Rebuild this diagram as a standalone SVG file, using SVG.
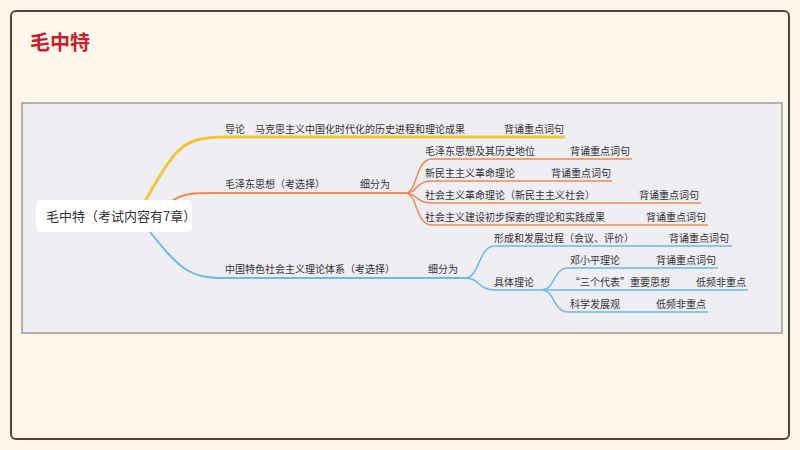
<svg xmlns="http://www.w3.org/2000/svg" width="800" height="450" viewBox="0 0 800 450">
<style>
text{font-family:"Noto Sans CJK SC","Noto Sans",sans-serif;fill:#333;font-size:10px}
.y{stroke:#f5c43a;fill:none;stroke-width:3}
.o{stroke:#f08a50;fill:none;stroke-width:2}
.b{stroke:#6ab8ef;fill:none;stroke-width:2}
.t{stroke-width:1.5}
</style>
<rect x="0" y="0" width="800" height="450" fill="#fdf5ea"/>
<rect x="11" y="11" width="778" height="428" rx="5" fill="#fff7ec" stroke="#5a4235" stroke-width="2"/>
<text x="30" y="50" style="font-size:20px;fill:#c8202a;font-weight:bold">毛中特</text>
<rect x="22" y="103" width="760" height="230" fill="#eeeef3" stroke="#a09a94" stroke-width="1.5"/>
<g id="connectors">
<path class="y" d="M145,201 C175,150 180,137 225,137 L565,137"/>
<path class="o" d="M172,201 C185,192 195,193 225,193 L405,193"/>
<path class="o t" d="M405,193 C418,193 415,159 432,159 L632,159"/>
<path class="o t" d="M405,193 C418,193 415,181 432,181 L612,181"/>
<path class="o t" d="M405,193 C418,193 415,203 432,203 L701,203"/>
<path class="o t" d="M405,193 C418,193 415,225 432,225 L708,225"/>
<path class="b" d="M150,232 C180,270 190,278 225,278 L465,278"/>
<path class="b t" d="M465,278 C480,278 478,246 495,246 L732,246"/>
<path class="b t" d="M465,278 C480,278 478,290 495,290 L542,290"/>
<path class="b t" d="M542,290 C555,290 553,268 568,268 L718,268"/>
<path class="b t" d="M542,290 L748,290"/>
<path class="b t" d="M542,290 C555,290 553,312 568,312 L708,312"/>
</g>
<g id="root"><rect x="36" y="200" width="156" height="32" rx="5" fill="#fff"/><text x="46" y="221" style="font-size:13px">毛中特（考试内容有7章）</text></g>
<g id="n1"><text x="225" y="133">导论　马克思主义中国化时代化的历史进程和理论成果</text><text x="504" y="133">背诵重点词句</text></g>
<g id="n2"><text x="225" y="188">毛泽东思想（考选择）</text><text x="360" y="188">细分为</text></g>
<g id="n21"><text x="425" y="155">毛泽东思想及其历史地位</text><text x="570" y="155">背诵重点词句</text></g>
<g id="n22"><text x="425" y="177">新民主主义革命理论</text><text x="551" y="177">背诵重点词句</text></g>
<g id="n23"><text x="425" y="199">社会主义革命理论（新民主主义社会）</text><text x="639" y="199">背诵重点词句</text></g>
<g id="n24"><text x="425" y="221">社会主义建设初步探索的理论和实践成果</text><text x="646" y="221">背诵重点词句</text></g>
<g id="n3"><text x="225" y="273">中国特色社会主义理论体系（考选择）</text><text x="428" y="273">细分为</text></g>
<g id="n31"><text x="494" y="242">形成和发展过程（会议、评价）</text><text x="669" y="242">背诵重点词句</text></g>
<g id="n32"><text x="494" y="286">具体理论</text></g>
<g id="n321"><text x="570" y="264">邓小平理论</text><text x="656" y="264">背诵重点词句</text></g>
<g id="n322"><text x="570" y="286">“三个代表”重要思想</text><text x="696" y="286">低频非重点</text></g>
<g id="n323"><text x="570" y="308">科学发展观</text><text x="656" y="308">低频非重点</text></g>
</svg>
